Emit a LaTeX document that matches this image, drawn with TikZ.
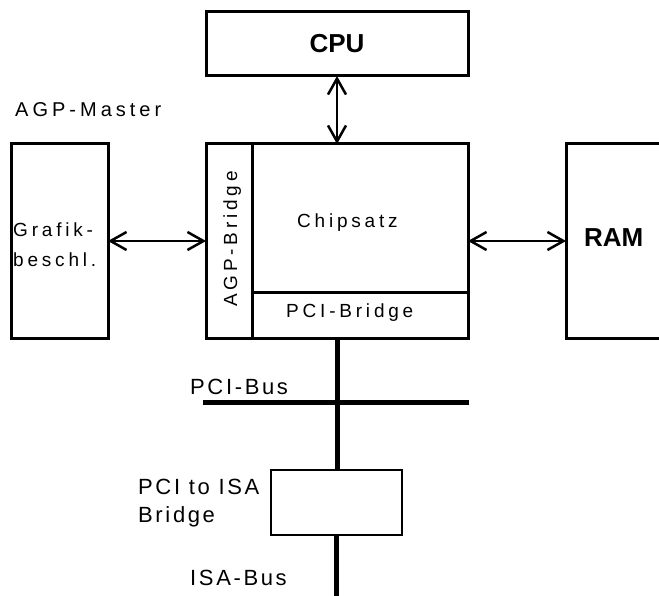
\documentclass[tikz,border=0pt]{standalone}
\usepackage{fontspec}
\setmainfont{Liberation Sans}
\newfontfamily\infont[LetterSpace=20]{Liberation Sans}
\newfontfamily\outfont[LetterSpace=12]{Liberation Sans}
\usetikzlibrary{arrows.meta}
\begin{document}
\begin{tikzpicture}[x=1pt,y=-1pt,
  box/.style={draw, line width=3pt, inner sep=0pt, outer sep=0pt},
  thinbox/.style={draw, line width=2.5pt, inner sep=0pt, outer sep=0pt},
  divider/.style={line width=3pt},
  arr/.style={{Straight Barb[length=16pt,width=18pt]}-{Straight Barb[length=16pt,width=18pt]}, line width=2.5pt},
  bus/.style={line width=5pt},
  intxt/.style={inner sep=0pt, font=\infont\fontsize{19}{23}\selectfont},
  bigtxt/.style={inner sep=0pt, font=\infont\fontsize{20}{24}\selectfont},
  outtxt/.style={inner sep=0pt, font=\outfont\fontsize{22}{26}\selectfont},
  boldtxt/.style={inner sep=0pt, font=\bfseries\fontsize{26}{30}\selectfont}]
\useasboundingbox (0,0) rectangle (659,596);
% boxes
\node[box, minimum width=262pt, minimum height=64pt, boldtxt] (cpu) at (337,44) {CPU};
\node[box, minimum width=262pt, minimum height=194pt] (chip) at (337,241) {};
\node[box, minimum width=97pt, minimum height=194pt] (graf) at (59.5,241) {};
\node[box, minimum width=154pt, minimum height=194pt] (ram) at (643,241) {};
\node[thinbox, minimum width=131pt, minimum height=65pt] (isa) at (336.5,502.5) {};
% chipset dividers
\coordinate (agpdiv) at (252,293);
\draw[divider] (agpdiv |- chip.north) -- (agpdiv |- chip.south);
\draw[divider] (agpdiv) -- (agpdiv -| chip.east);
% arrows
\draw[arr] (cpu.south) -- (chip.north);
\draw[arr] (graf.east) -- (chip.west);
\draw[arr] (chip.east) -- (ram.west);
% buses
\coordinate (pciL) at (203,402);
\coordinate (pciR) at (469,402);
\coordinate (isaend) at (336.5,610);
\draw[bus] (chip.south) -- (chip.south |- isa.north);
\draw[bus] (pciL) -- (pciR);
\draw[bus] (isa.south) -- (isaend);
% texts
\node[bigtxt, anchor=base west] (agpm) at (15,117) {AGP-Master};
\node[intxt, anchor=base west] (g1) at (13,237) {Grafik-};
\node[intxt, anchor=base west] (g2) at (13,267) {beschl.};
\node[intxt, anchor=base west] (chipt) at (297,228) {Chipsatz};
\node[boldtxt, anchor=base west] (ramt) at (584,247) {RAM};
\node[intxt, anchor=base west] (pcibr) at (286,317) {PCI-Bridge};
\node[intxt, anchor=base west, rotate=90] (agpbr) at (237,307) {AGP-Bridge};
\node[outtxt, anchor=base west] (pcibus) at (190,394) {PCI-Bus};
\node[outtxt, anchor=base west] (pisa1) at (138,494) {PCI to ISA};
\node[outtxt, anchor=base west] (pisa2) at (138,522) {Bridge};
\node[outtxt, anchor=base west] (isabus) at (190,585) {ISA-Bus};
\end{tikzpicture}
\end{document}
